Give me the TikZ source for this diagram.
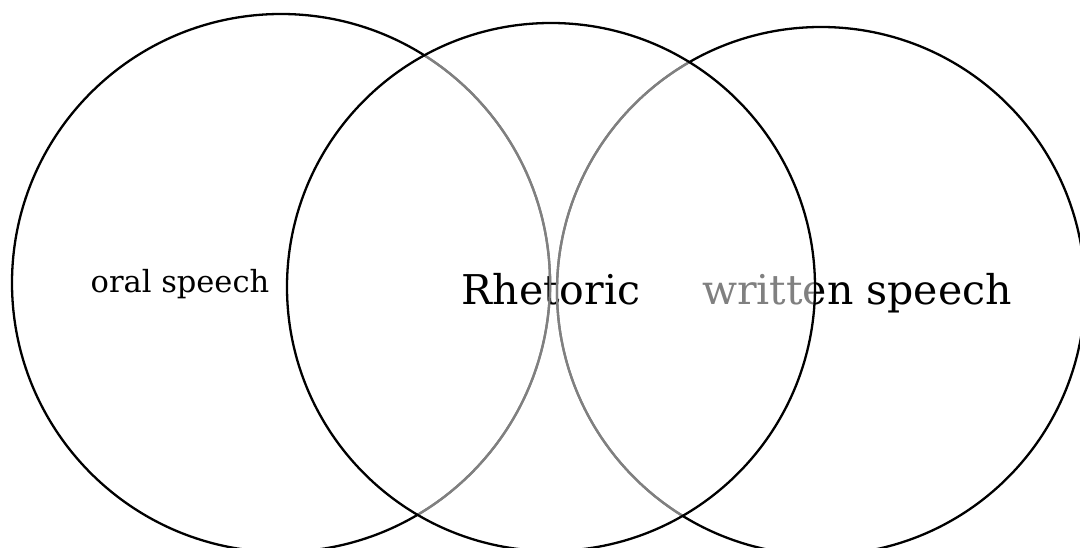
\documentclass[tikz,border=0pt]{standalone}
\usepackage{fontspec}
\setmainfont{DejaVu Serif}
\begin{document}
\begin{tikzpicture}[x=1pt,y=-1pt,
  ring/.style={draw=black,line width=2.3pt},
  fadering/.style={draw=black!50,line width=2.3pt},
  bigtext/.style={font=\fontsize{41}{48}\selectfont, inner sep=0pt, anchor=base},
  smalltext/.style={font=\fontsize{30.5}{36}\selectfont, inner sep=0pt, anchor=base}]
\useasboundingbox (0,0) rectangle (1080,548);
\clip (0,0) rectangle (1080,548);
\coordinate (L) at (281,283);
\coordinate (M) at (551,287);
\coordinate (R) at (821,291);
\draw[ring] (L) circle[radius=269];
\draw[ring] (R) circle[radius=264];
\node[smalltext] (oral) at (180,293) {oral speech};
\node[bigtext] (written) at (857,305) {written speech};
\fill[white,opacity=0.5] (M) circle[radius=264];
\node[bigtext] (rhet) at (551,305) {Rhetoric};
\begin{scope}
\clip (M) circle[radius=264];
\draw[fadering] (L) circle[radius=269];
\draw[fadering] (R) circle[radius=264];
\end{scope}
\draw[ring] (M) circle[radius=264];
\end{tikzpicture}
\end{document}
